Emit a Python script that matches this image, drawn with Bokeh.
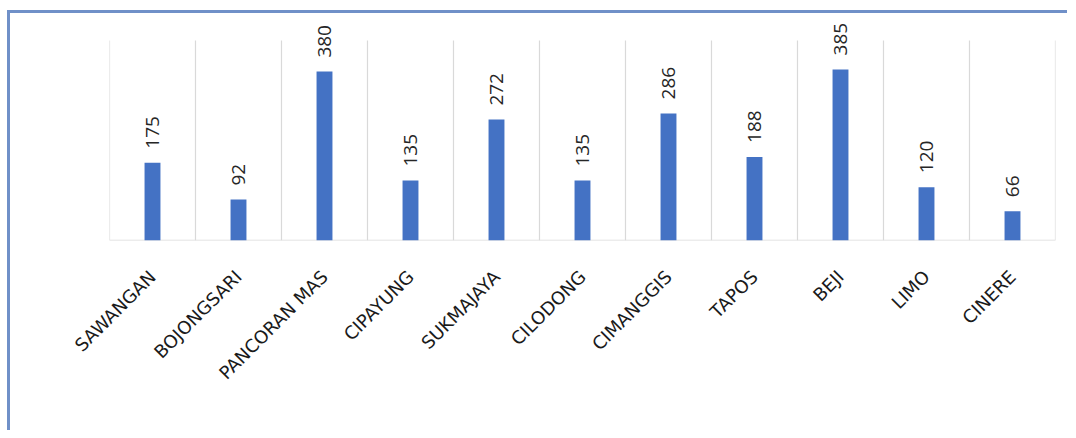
import math
from bokeh.plotting import figure
from bokeh.models import ColumnDataSource, LabelSet, FactorRange, Range1d
from bokeh.core.properties import value
from bokeh.embed import file_html
from bokeh.resources import INLINE

districts = ["SAWANGAN", "BOJONGSARI", "PANCORAN MAS", "CIPAYUNG", "SUKMAJAYA",
             "CILODONG", "CIMANGGIS", "TAPOS", "BEJI", "LIMO", "CINERE"]
counts = [175, 92, 380, 135, 272, 135, 286, 188, 385, 120, 66]
axis_max = 450

src = ColumnDataSource(dict(x=districts, top=counts, label=[str(c) for c in counts]))

p = figure(x_range=FactorRange(*districts, range_padding=0),
           y_range=Range1d(0, 510.75),
           width=1060, height=420,
           output_backend="svg", toolbar_location=None,
           min_border_left=99, min_border_right=15,
           min_border_top=0, min_border_bottom=193)
p.margin = (10, 0, 0, 7)
p.styles = {"border-left": "3px solid #7090c8", "border-top": "3px solid #7090c8"}

p.outline_line_color = None
p.xgrid.visible = False
p.ygrid.visible = False
p.yaxis.visible = False

n = len(districts)
bounds = list(range(n + 1))
p.segment(x0=bounds, y0=[0] * (n + 1), x1=bounds, y1=[axis_max] * (n + 1),
          line_color="#d9d9d9", line_width=1.2)
p.segment(x0=[0], y0=[0], x1=[n], y1=[0], line_color="#d9d9d9", line_width=1.5)

p.vbar(x="x", top="top", width=0.185, source=src, fill_color="#4472C4", line_color=None)

labels = LabelSet(x="x", y="top", text="label", source=src, angle=math.pi / 2,
                  y_offset=14, text_align="left", text_baseline="middle",
                  text_font=value("Open Sans"), text_font_size="19px", text_color="#262626")
p.add_layout(labels)

ax = p.xaxis[0]
ax.axis_line_color = None
ax.major_tick_line_color = None
ax.minor_tick_line_color = None
ax.major_label_orientation = math.pi / 4
ax.major_label_standoff = 27
ax.major_label_text_font = "DejaVu Sans"
ax.major_label_text_font_size = "18px"
ax.major_label_text_color = "#1a1a1a"

open("out.html", "w").write(file_html(p, INLINE))
